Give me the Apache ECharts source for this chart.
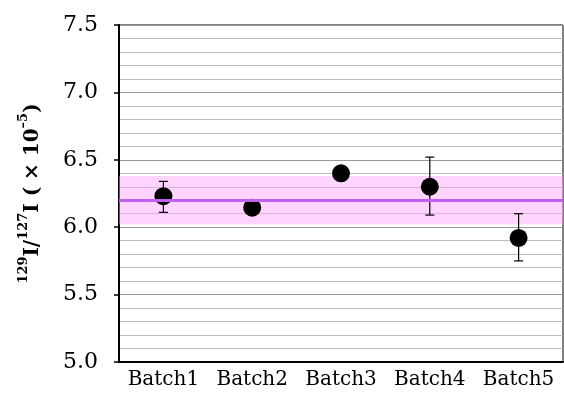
<!DOCTYPE html>
<html>
<head>
<meta charset="utf-8">
<script src="https://cdn.jsdelivr.net/npm/echarts@6/dist/echarts.min.js"></script>
<style>html,body{margin:0;padding:0;background:#fff;}#c{width:564px;height:394px;}</style>
</head>
<body>
<div id="c"></div>
<script>
var batches = ['Batch1', 'Batch2', 'Batch3', 'Batch4', 'Batch5'];
var ratios = [6.23, 6.145, 6.40, 6.30, 5.92];
var errLow = [6.11, 6.12, 6.38, 6.09, 5.75];
var errHigh = [6.34, 6.17, 6.42, 6.52, 6.10];
var meanValue = 6.20;
var bandLow = 6.02;
var bandHigh = 6.38;
var yTicks = [5.0, 5.5, 6.0, 6.5, 7.0, 7.5];

var chart = echarts.init(document.getElementById('c'), null, {renderer: 'canvas'});
var serif = 'DejaVu Serif';

chart.setOption({
  animation: false,
  backgroundColor: '#fff',
  grid: {left: 119, right: 1, top: 25, bottom: 32, show: true, borderColor: '#000', borderWidth: 1, backgroundColor: 'transparent'},
  xAxis: {
    type: 'category',
    data: batches,
    boundaryGap: true,
    axisLine: {lineStyle: {color: '#000', width: 2}},
    axisTick: {inside: true, alignWithLabel: true, length: 8, lineStyle: {color: '#000', width: 1.5}},
    axisLabel: {interval: 0, color: '#000', fontFamily: serif, fontSize: 20, margin: 8},
    splitLine: {show: false}
  },
  yAxis: {
    type: 'value',
    min: yTicks[0],
    max: yTicks[yTicks.length - 1],
    interval: 0.5,
    axisLine: {show: true, lineStyle: {color: '#000', width: 2}},
    axisTick: {show: true, inside: false, length: 5, lineStyle: {color: '#000', width: 1.5}},
    axisLabel: {color: '#000', fontFamily: serif, fontSize: 22, margin: 21, formatter: function (v) { return v.toFixed(1); }},
    splitLine: {show: true, lineStyle: {color: '#999', width: 1}},
    minorTick: {show: false, splitNumber: 5},
    minorSplitLine: {show: true, lineStyle: {color: '#bdbdbd', width: 1}},
    name: '{s|129}{m|I/}{s|127}{m|I ( × 10}{s|–5}{m|)}',
    nameLocation: 'middle',
    nameRotate: 90,
    nameGap: 76,
    nameTextStyle: {
      color: '#000',
      fontFamily: serif,
      fontWeight: 'bold',
      rich: {
        m: {fontSize: 20, fontWeight: 'bold', fontFamily: serif, color: '#000', verticalAlign: 'bottom', lineHeight: 26},
        s: {fontSize: 13, fontWeight: 'bold', fontFamily: serif, color: '#000', verticalAlign: 'top', lineHeight: 26}
      }
    }
  },
  series: [
    {
      type: 'line',
      data: [],
      z: 1,
      silent: true,
      markArea: {
        silent: true,
        itemStyle: {color: 'rgba(255,160,255,0.45)'},
        data: [[{yAxis: bandLow}, {yAxis: bandHigh}]]
      },
      markLine: {
        silent: true,
        symbol: ['none', 'none'],
        label: {show: false},
        lineStyle: {color: '#c260f0', width: 3, type: 'solid'},
        data: [{yAxis: meanValue}]
      }
    },
    {
      type: 'custom',
      z: 2,
      data: batches.map(function (b, i) { return [i, errLow[i], errHigh[i]]; }),
      renderItem: function (params, api) {
        var lo = api.coord([api.value(0), api.value(1)]);
        var hi = api.coord([api.value(0), api.value(2)]);
        var cw = 4.5;
        var st = {stroke: '#000', lineWidth: 1.2};
        return {
          type: 'group',
          children: [
            {type: 'line', shape: {x1: lo[0], y1: lo[1], x2: hi[0], y2: hi[1]}, style: st},
            {type: 'line', shape: {x1: lo[0] - cw, y1: lo[1], x2: lo[0] + cw, y2: lo[1]}, style: st},
            {type: 'line', shape: {x1: hi[0] - cw, y1: hi[1], x2: hi[0] + cw, y2: hi[1]}, style: st}
          ]
        };
      }
    },
    {
      type: 'scatter',
      z: 3,
      symbol: 'circle',
      symbolSize: 18,
      itemStyle: {color: '#000', opacity: 1},
      data: ratios
    }
  ]
});
</script>
</body>
</html>
